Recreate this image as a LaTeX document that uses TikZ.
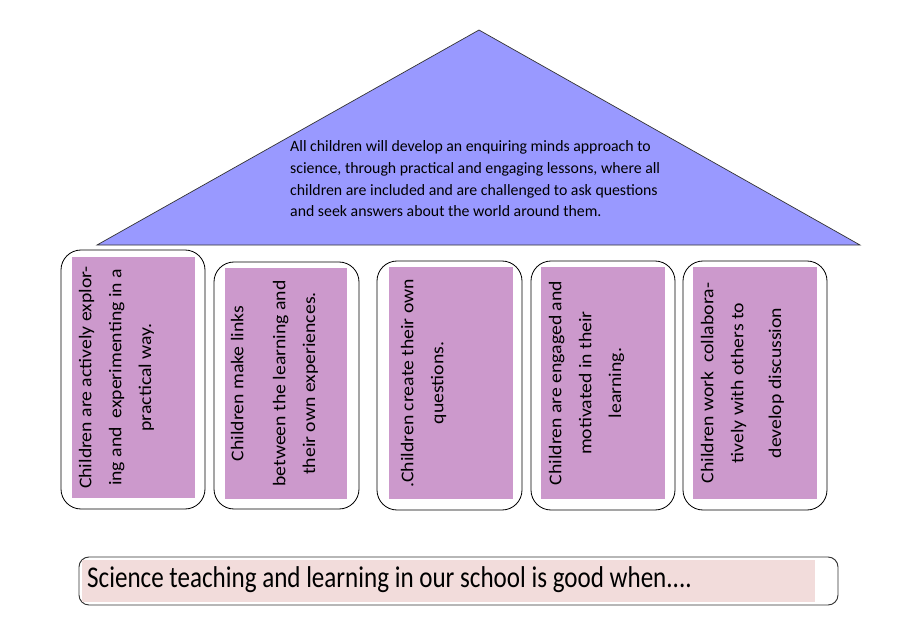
\documentclass[tikz,border=0pt]{standalone}
\usepackage{fontspec}
\setmainfont{Carlito}
\usetikzlibrary{fit,positioning}

\definecolor{roofblue}{HTML}{9999FF}
\definecolor{pillarpink}{HTML}{CC99CC}
\definecolor{basepink}{HTML}{F2DCDB}

\tikzset{
  roof/.style={fill=roofblue, draw=black!80, line width=0.6pt},
  pillar/.style={draw=black, fill=white, rounded corners=6mm, inner sep=0pt, line width=0.7pt},
  pillarfill/.style={fill=pillarpink, inner sep=0pt},
  pillartext/.style={rotate=90, xscale=1.1, anchor=north, align=center, inner sep=0pt,
    font=\fontsize{15.3}{25.5}\selectfont},
  rooftext/.style={anchor=north west, align=left, inner sep=0pt,
    font=\fontsize{13.5}{18.7}\selectfont},
  basebar/.style={draw=black!80, fill=white, rounded corners=3mm, inner sep=0pt, line width=0.8pt},
  basefill/.style={fill=basepink, inner sep=0pt},
  basetext/.style={anchor=base west, yscale=1.2, inner sep=0pt, font=\fontsize{21.4}{25}\selectfont}
}

\begin{document}
\begin{tikzpicture}[x=0.3mm,y=-0.3mm]
        \useasboundingbox (0,0) rectangle (900,632);

        % roof
        \coordinate (eaveL) at (97,245);
        \coordinate (apex) at (479,30);
        \coordinate (eaveR) at (860,245);
        \filldraw[roof] (eaveL) -- (apex) -- (eaveR) -- cycle;
        \node[rooftext] (vision) at (290,140) {All children will develop an enquiring minds approach to\\
          science, through practical and engaging lessons, where all\\
          children are included and are challenged to ask questions\\
          and seek answers about the world around them.};

        % pillars
        \node[pillar, fit={(61,250) (205,509)}] (p1) {};
        \node[pillar, fit={(214,262) (359,509)}] (p2) {};
        \node[pillar, fit={(377,261) (522,510)}] (p3) {};
        \node[pillar, fit={(531,261) (675,510)}] (p4) {};
        \node[pillar, fit={(683,261) (827,510)}] (p5) {};

        \node[pillarfill, fit={(72,257) (195,498)}] (f1) {};
        \node[pillarfill, fit={(225,268) (347,499)}] (f2) {};
        \node[pillarfill, fit={(389,267) (513,499)}] (f3) {};
        \node[pillarfill, fit={(541,267) (665,499)}] (f4) {};
        \node[pillarfill, fit={(693,267) (817,499)}] (f5) {};

        \node[pillartext] (t1) at ([xshift=2.1mm]f1.west) {Children are actively explor-\\ing and\ \ experimenting in a\\practical way.};
        \node[pillartext] (t2) at ([xshift=1.8mm]f2.west) {Children make links\\[3.6mm]between the learning and\\their own experiences.};
        \node[pillartext] (t3) at ([xshift=3.6mm]f3.west) {.Children create their own\\questions.};
        \node[pillartext] (t4) at ([xshift=2.4mm]f4.west) {Children are engaged and\\motivated in their\\learning.};
        \node[pillartext] (t5) at ([xshift=2.4mm]f5.west) {Children work\ \ collabora-\\tively with others to\\[2.4mm]develop discussion};

        % foundation
        \node[basebar, fit={(79,557) (838,605)}] (bar) {};
        \node[basefill, fit={(82,560) (815,602)}] (barfill) {};
        \node[basetext] (good) at (87,587) {Science teaching and learning in our school is good when....};
\end{tikzpicture}
\end{document}
